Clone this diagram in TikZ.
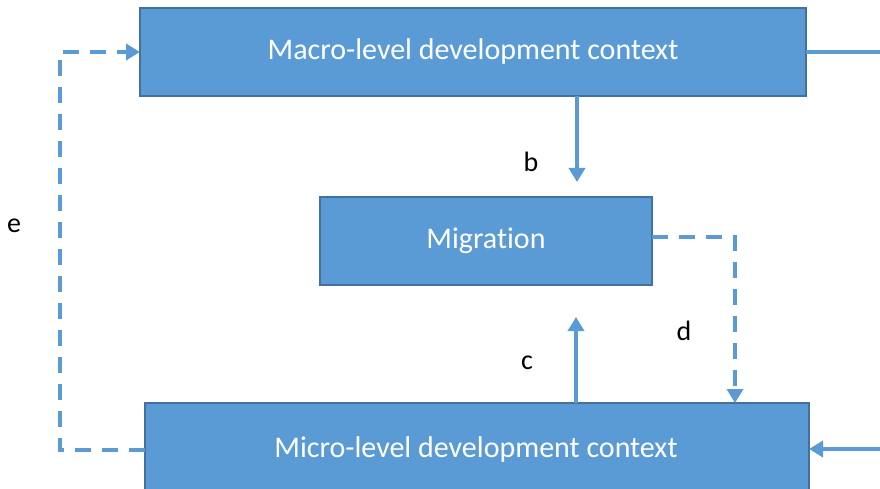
\documentclass[tikz,border=0pt]{standalone}
\usepackage{fontspec}
\setmainfont{Carlito}[Ligatures=NoCommon, Contextuals=NoAlternate]
\usetikzlibrary{arrows.meta}
\definecolor{boxfill}{HTML}{5B9BD5}
\definecolor{boxline}{HTML}{41719C}
\tikzset{
  blockbox/.style={draw=boxline, line width=2.5pt, fill=boxfill, text=white, font=\fontsize{30}{34}\selectfont, inner sep=0pt, outer sep=0pt, anchor=north west},
  conn/.style={draw=boxfill, line width=3.5pt, -{Triangle[length=14pt,width=16pt]}},
  plainconn/.style={draw=boxfill, line width=3.5pt},
  dconn/.style={conn, dash pattern=on 16pt off 11pt},
  lab/.style={font=\fontsize{28}{32}\selectfont, text=black}
}
\begin{document}
\begin{tikzpicture}[x=1pt,y=-1pt]
\useasboundingbox (0,0) rectangle (880,489);
\clip (0,0) rectangle (880,489);
\node[blockbox, minimum width=666pt, minimum height=88pt] (macro) at (140,8) {Macro-level development context};
\node[blockbox, minimum width=332pt, minimum height=88pt] (mig) at (320,197) {Migration};
\node[blockbox, minimum width=664pt, minimum height=100pt] (micro) at (145,403) {};
\node[text=white, font=\fontsize{30}{34}\selectfont] (microtxt) at (476,449) {Micro-level development context};
\coordinate (rightTop) at (885,51);
\coordinate (rightBot) at (885,449);
\coordinate (bEnd) at (577,182);
\coordinate (cEnd) at (576,317);
\coordinate (dCorner) at (735,237);
\coordinate (eBot) at (60,450);
\coordinate (eTop) at (60,51);
\draw[plainconn] (macro.east) -- (macro.east -| rightTop);
\draw[conn] (rightBot) -- (micro.east |- rightBot);
\draw[conn] (macro.south -| bEnd) -- (bEnd);
\draw[conn] (micro.north -| cEnd) -- (cEnd);
\draw[dconn] (mig.east |- dCorner) -| (dCorner |- micro.north);
\draw[dconn] (micro.west |- eBot) -| (eTop |- macro.west) -- (macro.west);
\node[lab] (lb) at (531,162) {b};
\node[lab] (lc) at (527,363) {c};
\node[lab] (ld) at (684,331) {d};
\node[lab] (le) at (14,226) {e};
\end{tikzpicture}
\end{document}
